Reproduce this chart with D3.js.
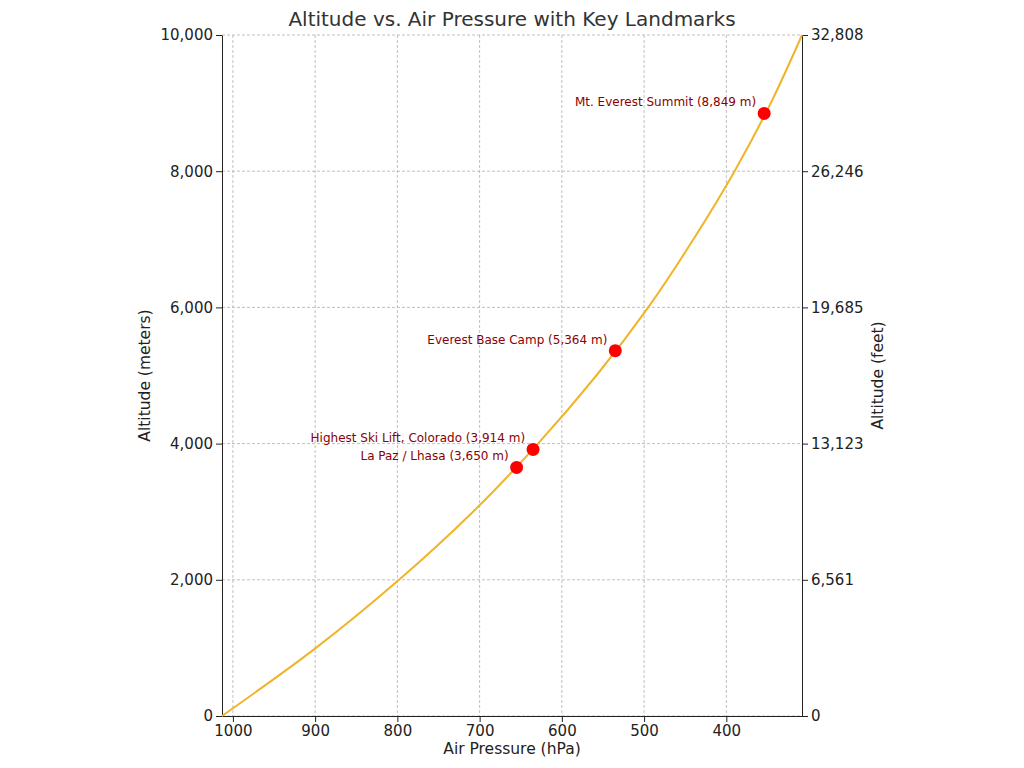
<!DOCTYPE html>
<html><head><meta charset="utf-8">
<script src="https://cdn.jsdelivr.net/npm/d3@7"></script>
<style>body{margin:0;background:#fff;font-family:"DejaVu Sans",sans-serif}</style>
</head><body><svg id="c" width="1024" height="768"></svg>
<script>
const curvePressure = [1013.25, 899, 798, 708, 629, 558, 495, 440, 390, 346, 308];
const curveAltitude = [0, 1000, 2000, 3000, 4000, 5000, 6000, 7000, 8000, 9000, 10000];
const landmarkNames = ["La Paz / Lhasa (3,650 m)", "Highest Ski Lift, Colorado (3,914 m)", "Everest Base Camp (5,364 m)", "Mt. Everest Summit (8,849 m)"];
const landmarkPressure = [655, 635, 535, 354];
const landmarkAltitude = [3650, 3914, 5364, 8849];
const xTicks = [1000, 900, 800, 700, 600, 500, 400];
const yTicks = [0, 2000, 4000, 6000, 8000, 10000];
const feetLabels = ["0", "6,561", "13,123", "19,685", "26,246", "32,808"];

const svg = d3.select("#c");
const L=222,R=802,T=35,B=716;
const x = d3.scaleLinear().domain([1013.25,308]).range([L,R]);
const y = d3.scaleLinear().domain([0,10000]).range([B,T]);
const g = svg.append("g");
g.selectAll(".gx").data(xTicks).join("line").attr("x1",d=>x(d)).attr("x2",d=>x(d)).attr("y1",T).attr("y2",B)
 .attr("stroke","#b0b0b0").attr("stroke-dasharray","3,2").attr("stroke-width",0.8);
g.selectAll(".gy").data(yTicks).join("line").attr("x1",L).attr("x2",R).attr("y1",d=>y(d)).attr("y2",d=>y(d))
 .attr("stroke","#b0b0b0").attr("stroke-dasharray","3,2").attr("stroke-width",0.8);
const font = s=>s.style("font-size","15px").style("font-family","DejaVu Sans").attr("fill","#222");
const ax = svg.append("g").attr("transform",`translate(0,${B})`).call(d3.axisBottom(x).tickValues(xTicks).tickFormat(d3.format("d")).tickSizeOuter(0));
const ay = svg.append("g").attr("transform",`translate(${L},0)`).call(d3.axisLeft(y).tickValues(yTicks).tickFormat(d3.format(",")).tickSizeOuter(0));
const ar = svg.append("g").attr("transform",`translate(${R},0)`).call(d3.axisRight(y).tickValues(yTicks).tickFormat((d,i)=>feetLabels[i]).tickSizeOuter(0));
[ax,ay,ar].forEach(a=>{a.selectAll("text").call(font);a.selectAll("line,path").attr("stroke","#222");});
const pts = curvePressure.map((p,i)=>[p,curveAltitude[i]]);
svg.append("path").datum(pts).attr("fill","none").attr("stroke","#f0b429").attr("stroke-width",2)
 .attr("d",d3.line().x(d=>x(d[0])).y(d=>y(d[1])).curve(d3.curveMonotoneY));
const lm = landmarkNames.map((n,i)=>({n,p:landmarkPressure[i],a:landmarkAltitude[i]}));
svg.selectAll(".pt").data(lm).join("circle").attr("cx",d=>x(d.p)).attr("cy",d=>y(d.a)).attr("r",6.5).attr("fill","red");
svg.selectAll(".lb").data(lm).join("text").attr("x",d=>x(d.p)-8).attr("y",d=>y(d.a)-7)
 .attr("text-anchor","end").attr("fill","#8b0000").style("font-size","12px").text(d=>d.n);
svg.append("text").attr("x",512).attr("y",26).attr("text-anchor","middle").style("font-size","20px").attr("fill","#333").text("Altitude vs. Air Pressure with Key Landmarks");
svg.append("text").attr("x",512).attr("y",754).attr("text-anchor","middle").style("font-size","15.5px").attr("fill","#222").text("Air Pressure (hPa)");
svg.append("text").attr("transform",`translate(150,${(T+B)/2}) rotate(-90)`).attr("text-anchor","middle").style("font-size","15.5px").attr("fill","#222").text("Altitude (meters)");
svg.append("text").attr("transform",`translate(883,${(T+B)/2}) rotate(-90)`).attr("text-anchor","middle").style("font-size","15.5px").attr("fill","#222").text("Altitude (feet)");
</script></body></html>
